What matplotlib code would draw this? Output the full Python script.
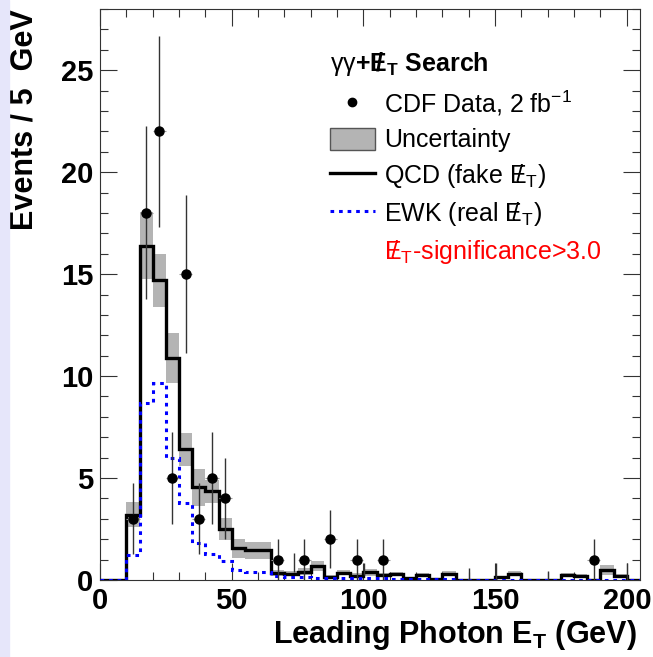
import numpy as np
import matplotlib
matplotlib.use("Agg")
import matplotlib.pyplot as plt
from matplotlib.lines import Line2D
from matplotlib.patches import Patch, Rectangle
from matplotlib.ticker import MultipleLocator

plt.rcParams['font.family'] = ['Liberation Sans', 'DejaVu Sans']
plt.rcParams['mathtext.fontset'] = 'custom'
plt.rcParams['mathtext.rm'] = 'Liberation Sans'
plt.rcParams['mathtext.it'] = 'Liberation Sans:italic'
plt.rcParams['mathtext.bf'] = 'Liberation Sans:bold'

# 5 GeV bins, 0..205 GeV
edges = np.arange(0, 206, 5)

# QCD (fake MET) prediction per bin
qcd = [0, 0, 3.2, 16.4, 14.7, 10.9, 6.4, 4.55, 4.35, 2.5,
       1.55, 1.45, 1.45, 0.33, 0.3, 0.4, 0.68, 0.16, 0.36, 0.22,
       0.38, 0.25, 0.28, 0.08, 0.24, 0.03, 0.3, 0, 0, 0,
       0.14, 0.3, 0, 0, 0, 0.26, 0.2, 0, 0.49, 0.2, 0]
# symmetric uncertainty on the prediction
qcd_err = [0, 0, 0.62, 1.63, 1.3, 1.22, 0.8, 0.9, 0.55, 0.54,
           0.48, 0.4, 0.4, 0.15, 0.12, 0.17, 0.25, 0.08, 0.12, 0.1,
           0.17, 0.1, 0.1, 0.05, 0.1, 0.03, 0.12, 0, 0, 0,
           0.08, 0.12, 0, 0, 0, 0.1, 0.08, 0, 0.24, 0.1, 0]
# EWK (real MET) prediction per bin
ewk = [0, 0, 1.22, 8.68, 9.66, 6.0, 3.77, 1.8, 1.27, 0.93,
       0.5, 0.4, 0.4, 0.2, 0.15, 0.15, 0.12, 0.12, 0.1, 0.1,
       0.08, 0.1, 0.05, 0.05, 0.04, 0.03, 0.03, 0.02, 0.02, 0.02,
       0.02, 0.02, 0.02, 0.01, 0.01, 0.01, 0.01, 0.01, 0.01, 0.01, 0.01]
# observed events per bin
data = [0, 0, 3, 18, 22, 5, 15, 3, 5, 4,
        0, 0, 0, 1, 0, 1, 0, 2, 0, 1,
        0, 1, 0, 0, 0, 0, 0, 0, 0, 0,
        0, 0, 0, 0, 0, 0, 0, 1, 0, 0, 0]
# short leftover error bars in empty bins
stray_x = [73.8, 100.3, 140.1, 150.2, 170.2, 200.0]
stray_lo = [0.4, 0.25, 0, 0, 0, 0]
stray_hi = [1.3, 0.83, 0.6, 0.85, 0.45, 0.85]

qcd = np.array(qcd)
qcd_err = np.array(qcd_err)
data = np.array(data, dtype=float)
centers = edges[:-1] + 2.5
has = data > 0

fig = plt.figure(figsize=(6.53, 6.57), dpi=100)
fig.patches.append(Rectangle((0, 0), 9 / 653, 1, transform=fig.transFigure,
                             color='#e6e6fa', zorder=0))
ax = fig.add_axes([100 / 653, 77 / 657, 540 / 653, 571 / 657])

ax.stairs(qcd + qcd_err, edges, baseline=qcd - qcd_err, fill=True,
          color='#b4b4b4', lw=0, zorder=1)
ax.stairs(qcd, edges, color='black', lw=2.4, zorder=3)
ewk_style = (0, (1.2, 1.6))
ax.stairs(ewk, edges, color='#0000ff', lw=2.2, linestyle=ewk_style, zorder=4)

ax.vlines(stray_x, stray_lo, stray_hi, color='#333333', lw=1, zorder=5)
ax.errorbar(centers[has], data[has], xerr=2.5, fmt='none', ecolor='#999999',
            elinewidth=0.8, capsize=0, zorder=5)
ax.errorbar(centers[has], data[has], yerr=np.sqrt(data[has]), fmt='o', ms=6.5,
            color='black', ecolor='#333333', elinewidth=1, capsize=0, zorder=6)

ax.set_xlim(0, 205)
ax.set_ylim(0, 28)
ax.set_xticks([0, 50, 100, 150, 200])
ax.xaxis.set_minor_locator(MultipleLocator(10))
ax.yaxis.set_major_locator(MultipleLocator(5))
ax.yaxis.set_minor_locator(MultipleLocator(1))
ax.tick_params(which='both', direction='in', top=True, right=True,
               width=0.8, color='#333333')
ax.tick_params(which='major', length=12, labelsize=21, pad=5)
ax.tick_params(which='minor', length=6)
for lab in ax.get_xticklabels() + ax.get_yticklabels():
    lab.set_fontweight('bold')
for sp in ax.spines.values():
    sp.set_color('#333333')
    sp.set_linewidth(0.8)

ax.set_xlabel(r'Leading Photon $\mathbf{E}_\mathbf{T}$ (GeV)', fontsize=22,
              fontweight='bold', loc='right')
ax.xaxis.set_label_coords(0.993, -0.066)
ax.set_ylabel('Events / 5  GeV', fontsize=22, fontweight='bold', loc='top')
ax.yaxis.set_label_coords(-0.112, 1.0)

met = r'${\mathrm{E}\!\!\!/\,}_\mathrm{T}$'
handles = [Line2D([], [], ls='none', marker='o', ms=6, color='black'),
           Patch(facecolor='#b4b4b4', edgecolor='#555555', lw=1),
           Line2D([], [], color='black', lw=2.4),
           Line2D([], [], color='#0000ff', lw=2.2, ls=ewk_style),
           Line2D([], [], ls='none')]
labels = [r'CDF Data, 2 $\mathrm{fb}^{-1}$', 'Uncertainty',
          'QCD (fake ' + met + ')', 'EWK (real ' + met + ')',
          met + '-significance>3.0']
leg = ax.legend(handles, labels, loc='upper left', bbox_to_anchor=(0.425, 0.928),
                frameon=False, fontsize=18,
                title=r'$\mathrm{\gamma\gamma}$+${\mathbf{E}\!\!\!\mathbf{/}\,}_\mathbf{T}$ Search',
                title_fontproperties={'weight': 'bold', 'size': 18},
                alignment='left', handlelength=1.8, handleheight=1.0,
                handletextpad=0.4, labelspacing=0.4, borderpad=0, borderaxespad=0)
leg.get_texts()[-1].set_color('red')

fig.savefig('out.png', dpi=100)
